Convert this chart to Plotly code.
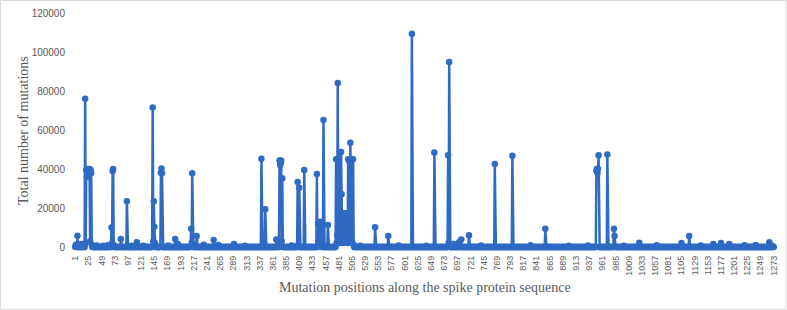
import plotly.graph_objects as go

# Sparse data: mutation positions with non-zero counts (all other positions are 0)
n_positions = 1273
mut_positions = [
    2, 3, 5, 8, 12, 16,
    19, 20, 21, 22, 23, 24, 25, 26, 27, 28, 29, 30, 31,
    40, 52, 60, 67, 68, 69, 70, 71, 84, 95, 104, 113, 125,
    142, 143, 144, 145, 146, 157, 158, 159, 170, 183, 188,
    212, 213, 214, 215, 222, 235, 253, 262, 290, 310,
    340, 347, 367, 373, 374, 375, 376, 377, 378, 395,
    406, 407, 409, 418, 441, 443, 444, 445, 446, 447, 448, 449,
    453, 461, 476, 477, 478, 479, 480, 481, 482, 483, 484, 485,
    486, 487, 488, 489, 490, 491, 492, 493, 494, 495, 496, 497,
    498, 499, 500, 501, 502, 503, 504, 505, 506, 507, 508,
    520, 547, 571, 590, 614, 640, 655, 680, 681, 682, 690,
    700, 704, 718, 740, 765, 797, 830, 857, 900, 935,
    950, 951, 952, 953, 954, 970, 982, 983, 1000, 1028,
    1060, 1105, 1119, 1140, 1163, 1177, 1192, 1220, 1240, 1265, 1270,
]
mut_counts = [
    1200, 800, 5800, 1000, 1500, 900,
    76000, 2000, 39500, 36000, 40000, 38000, 39500, 37000, 40000, 3000, 39500, 38000, 1200,
    800, 600, 900, 10000, 2000, 39000, 40000, 1000, 4100, 23400, 700, 2400, 600,
    71600, 3000, 23400, 10400, 2000, 38100, 40300, 38000, 800, 4100, 1500,
    9400, 2000, 37800, 1000, 5600, 1200, 3600, 1000, 1500, 600,
    45300, 19300, 3900, 44300, 42000, 43000, 44300, 3000, 35200, 800,
    33300, 1000, 30400, 39500, 37400, 12000, 3000, 12500, 2000, 12900, 1500, 12000,
    65100, 11300, 45000, 2000, 6000, 84100, 3000, 45000, 12000, 48700, 2000, 48700,
    27000, 5000, 17300, 2000, 17300, 5000, 17300, 3000, 17000, 4000, 17300, 2000,
    45000, 10000, 44000, 5000, 53500, 3000, 45000, 45000, 2000, 45000, 1000,
    700, 10100, 5600, 800, 109400, 700, 48400, 47000, 2000, 94900, 1500,
    2500, 3900, 6000, 800, 42600, 46800, 900, 9400, 600, 800,
    39100, 40000, 38000, 40000, 47000, 47500, 9400, 5600, 700, 2200,
    900, 2000, 5600, 800, 1500, 2000, 1500, 900, 1000, 2400, 600,
]
y_ticks = [0, 20000, 40000, 60000, 80000, 100000, 120000]
x_tick_labels = list(range(1, 1274, 24))

positions = list(range(1, n_positions + 1))
counts = [0] * n_positions
for p, c in zip(mut_positions, mut_counts):
    counts[p - 1] = c

blue = "#2F6AC4"
grey = "#595959"

fig = go.Figure()
fig.add_trace(go.Scatter(
    x=positions, y=counts, mode="lines+markers",
    line=dict(color=blue, width=2.5),
    marker=dict(color=blue, size=6.5),
    cliponaxis=False, showlegend=False,
))

L, R, T, B = 75, 13, 13, 63
W, H = 787, 310
pw, ph = W - L - R, H - T - B

fig.update_layout(
    width=W, height=H,
    margin=dict(l=L, r=R, t=T, b=B, autoexpand=False),
    paper_bgcolor="white", plot_bgcolor="white",
    xaxis=dict(
        range=[0.5, 1273.5], tickmode="array", tickvals=x_tick_labels,
        ticktext=[str(v) for v in x_tick_labels], tickangle=-90,
        tickfont=dict(family="Liberation Sans", size=9, color=grey),
        showgrid=False, zeroline=False, showline=False, ticks="",
        automargin=False, ticklabelstandoff=6,
    ),
    yaxis=dict(
        range=[0, 120000], tickmode="array", tickvals=y_ticks,
        ticktext=[str(v) for v in y_ticks],
        tickfont=dict(family="Liberation Sans", size=10, color=grey),
        showgrid=False, zeroline=False, showline=False, ticks="",
        automargin=False, ticklabelstandoff=9,
    ),
    annotations=[
        dict(text="Total number of mutations", xref="paper", yref="paper",
             x=(23.5 - L) / pw, y=(H - B - 130.5) / ph, textangle=-90,
             showarrow=False, xanchor="center", yanchor="middle",
             font=dict(family="Liberation Serif", size=14, color=grey)),
        dict(text="Mutation positions along the spike protein sequence",
             xref="paper", yref="paper",
             x=(425 - L) / pw, y=(H - B - 287) / ph,
             showarrow=False, xanchor="center", yanchor="middle",
             font=dict(family="Liberation Serif", size=14, color=grey)),
    ],
    shapes=[
        dict(type="rect", xref="paper", yref="paper",
             x0=(0.5 - L) / pw, x1=(786 - L) / pw,
             y0=(H - B - 309.5) / ph, y1=(H - B - 0.5) / ph,
             line=dict(color="#D9D9D9", width=1), fillcolor="rgba(0,0,0,0)"),
    ],
)

fig.write_html("out.html", config={"displayModeBar": False},
               post_script="document.body.style.margin='0';document.body.style.overflow='hidden';")
